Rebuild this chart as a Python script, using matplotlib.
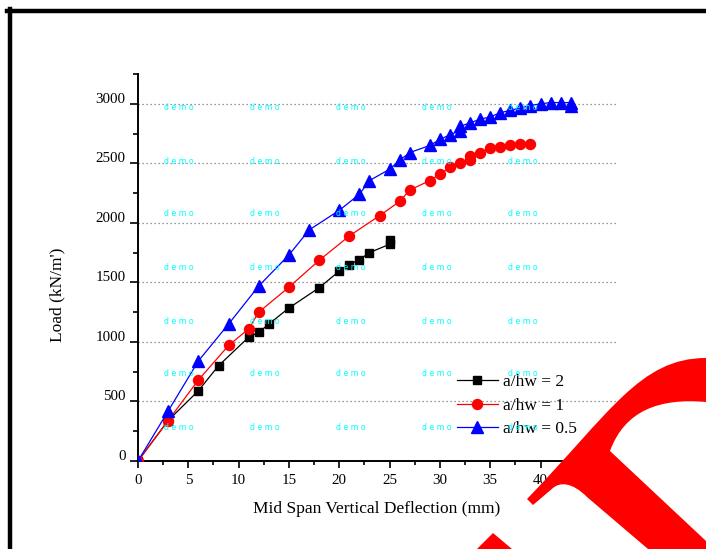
import matplotlib
matplotlib.use("Agg")
import matplotlib.pyplot as plt
from matplotlib.path import Path
from matplotlib.patches import PathPatch
from matplotlib.lines import Line2D
from matplotlib.transforms import Affine2D, ScaledTranslation
from matplotlib.ticker import MultipleLocator

# ---- data -------------------------------------------------------------
defl_r2 = [0, 3, 6, 8, 11, 12, 13, 15, 18, 20, 21, 22, 23, 25, 25]
load_r2 = [0, 340, 590, 800, 1040, 1080, 1150, 1285, 1455, 1595, 1650, 1690, 1750, 1820, 1860]

defl_r1 = [0, 3, 6, 9, 11, 12, 15, 18, 21, 24, 26, 27, 29, 30, 31, 32, 33, 33,
           34, 35, 36, 37, 38, 39]
load_r1 = [0, 340, 680, 970, 1110, 1250, 1460, 1685, 1890, 2060, 2180, 2275, 2355,
           2410, 2465, 2500, 2530, 2560, 2590, 2625, 2640, 2655, 2660, 2660]

defl_r05 = [0, 3, 6, 9, 12, 15, 17, 20, 22, 23, 25, 26, 27, 29, 30, 31, 32, 32,
            33, 34, 35, 36, 37, 38, 39, 40, 41, 42, 43, 43]
load_r05 = [0, 420, 840, 1150, 1470, 1730, 1940, 2105, 2240, 2355, 2450, 2525, 2590,
            2650, 2700, 2740, 2775, 2810, 2840, 2870, 2890, 2925, 2945, 2965, 2985,
            3000, 3010, 3010, 3010, 2985]

series_labels = ["a/hw = 2", "a/hw = 1", "a/hw = 0.5"]
x_label = "Mid Span Vertical Deflection (mm)"
y_label = "Load (kN/m')"
x_ticks = [0, 5, 10, 15, 20, 25, 30, 35, 40, 45]
y_ticks = [0, 500, 1000, 1500, 2000, 2500, 3000]
grid_levels = [500, 1000, 1500, 2000, 2500, 3000]

W, H = 706, 549
fig = plt.figure(figsize=(W / 100, H / 100), dpi=100)
fig.patch.set_facecolor("white")
plt.rcParams["font.family"] = ["Liberation Serif", "DejaVu Serif"]

# pixel-space transform (origin top-left, y downward)
pix = Affine2D().scale(1 / W, -1 / H).translate(0, 1) + fig.transFigure

ax = fig.add_axes([138 / W, 1 - 461 / H, (616 - 138) / W, (461 - 74) / H])
ax.set_xlim(0, 47.5)
ax.set_ylim(0, 3250)

for lvl in grid_levels:
    ax.axhline(lvl, color="#777777", lw=0.9, ls=(0, (1, 2.2)), zorder=1)

ax.plot(defl_r2, load_r2, color="black", lw=0.9, marker="s", ms=5.8,
        mec="black", mfc="black", label=series_labels[0], zorder=3)
ax.plot(defl_r1, load_r1, color="red", lw=0.9, marker="o", ms=7.2,
        mec="red", mfc="red", label=series_labels[1], zorder=4)
ax.plot(defl_r05, load_r05, color="blue", lw=0.9, marker="^", ms=8.0,
        mec="blue", mfc="blue", label=series_labels[2], zorder=5)

for side in ("top", "right"):
    ax.spines[side].set_visible(False)
for side in ("left", "bottom"):
    ax.spines[side].set_linewidth(1.4)

ax.set_xticks(x_ticks)
ax.set_yticks(y_ticks)
ax.xaxis.set_minor_locator(MultipleLocator(2.5))
ax.yaxis.set_minor_locator(MultipleLocator(250))
ax.tick_params(axis="x", which="major", direction="out", length=5, width=1.2,
               labelsize=10.8, pad=4)
ax.tick_params(axis="x", which="minor", direction="out", length=3, width=1.2)
ax.tick_params(axis="y", which="major", direction="out", length=6, width=1.2,
               labelsize=10.8, pad=3)
ax.tick_params(axis="y", which="minor", direction="out", length=3.5, width=1.2)

# y tick labels sit a little above their ticks
lift = ScaledTranslation(0, 6 / 100, fig.dpi_scale_trans)
for lab in ax.get_yticklabels():
    lab.set_transform(lab.get_transform() + lift)

fig.text(377 / W, 1 - 509 / H, x_label, ha="center", va="center", fontsize=12.5)
fig.text(57 / W, 1 - 295 / H, y_label, ha="center", va="center", fontsize=12.5,
         rotation=90)

leg = ax.legend(loc="upper left", bbox_to_anchor=(457 / W, 1 - 374 / H),
                bbox_transform=fig.transFigure, frameon=False, fontsize=12.5,
                borderpad=0, borderaxespad=0, handlelength=2.35,
                handletextpad=0.3, labelspacing=0.42)

# outer frame
fig.add_artist(Line2D([7, W], [11, 11], transform=pix, color="black", lw=3.2))
fig.add_artist(Line2D([10, 10], [9, H], transform=pix, color="black", lw=3.2))

# "demo" stamp grid
stamp_x = [179, 265, 351, 437, 523]
stamp_y = [107, 161, 214, 267, 321, 374, 427]
for sy in stamp_y:
    for sx in stamp_x:
        fig.text(sx, sy, "d e m o", transform=pix, ha="center", va="center",
                 fontsize=5.7, color="#00ffff", family="DejaVu Sans", zorder=10)

# red emblem fragment
M, L, C, Z = Path.MOVETO, Path.LINETO, Path.CURVE4, Path.CLOSEPOLY
verts = [
    (527, 499),
    (610, 413), (640, 358), (706, 358),
    (706, 402),
    (660, 398), (625, 410), (610, 451),
    (706, 541),
    (706, 549),
    (648, 549),
    (587, 497),
    (572, 482), (560, 482), (553, 488),
    (533, 505),
    (527, 499),
]
codes = [M, C, C, C, L, C, C, C, L, L, L, L, C, C, C, L, Z]
fig.add_artist(PathPatch(Path(verts, codes), transform=pix, facecolor="red",
                         edgecolor="none", zorder=20))
tri = [(477, 549), (493, 533), (512, 549), (477, 549)]
fig.add_artist(PathPatch(Path(tri, [M, L, L, Z]), transform=pix, facecolor="red",
                         edgecolor="none", zorder=20))

fig.savefig("out.png", dpi=100, facecolor="white")
